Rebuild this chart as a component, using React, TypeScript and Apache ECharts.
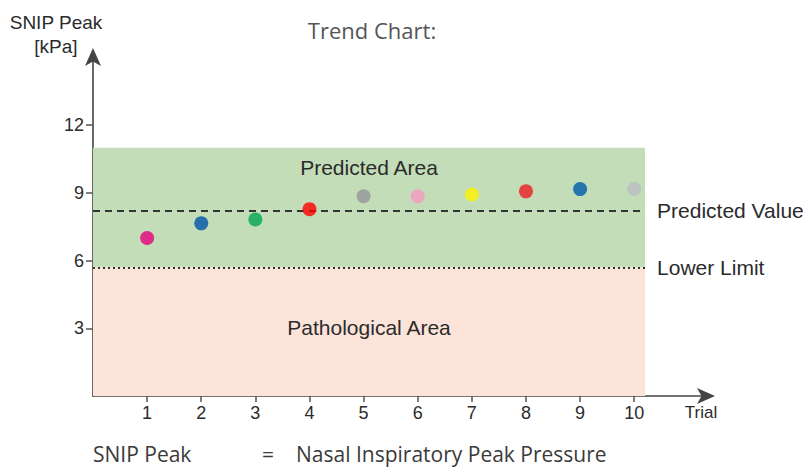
import React, { useEffect, useRef } from "react";
import * as echarts from "echarts";

const trials = [1, 2, 3, 4, 5, 6, 7, 8, 9, 10];
const snipPeak = [7.0, 7.65, 7.82, 8.28, 8.85, 8.85, 8.93, 9.07, 9.17, 9.17];
const pointColors = ["#e6007e", "#0054a6", "#00a651", "#ff0000", "#939598", "#f49ac1", "#fff200", "#ed1c24", "#005baa", "#bcbec0"];
const yTicks = [3, 6, 9, 12];
const predictedValue = 8.2;
const lowerLimit = 5.7;
const predictedUpper = 11;
const areaEnd = 10.2;

export default function App() {
  const ref = useRef<HTMLDivElement>(null);
  useEffect(() => {
    const chart = echarts.init(ref.current!, null, { renderer: "svg" });
    const axisFont = "'Liberation Sans', Arial, sans-serif";
    const labelColor = "#2b2b2b";
    chart.setOption({
      animation: false,
      backgroundColor: "#ffffff",
      grid: { left: 93, right: 98, top: 53, bottom: 72, containLabel: false },
      xAxis: {
        type: "value",
        min: 0,
        max: 11.4,
        axisLine: { show: true, symbol: ["none", "arrow"], symbolSize: [12, 18], symbolOffset: [0, 5], lineStyle: { color: "#444", width: 1.6 } },
        axisTick: { show: true, length: 6, lineStyle: { color: "#555", width: 1.5 }, customValues: trials },
        axisLabel: { customValues: trials, fontSize: 18, color: labelColor, fontFamily: axisFont, margin: 8 },
        splitLine: { show: false },
      },
      yAxis: {
        type: "value",
        min: 0,
        max: 15.2,
        axisLine: { show: true, symbol: ["none", "arrow"], symbolSize: [12, 18], symbolOffset: [0, 5], lineStyle: { color: "#444", width: 1.6 } },
        axisTick: { show: true, length: 7, lineStyle: { color: "#555", width: 1.5 }, customValues: yTicks },
        axisLabel: { customValues: yTicks, fontSize: 18, color: labelColor, fontFamily: axisFont, margin: 9 },
        splitLine: { show: false },
      },
      series: [
        {
          type: "scatter",
          symbolSize: 14,
          z: 5,
          data: trials.map((t, i) => ({ value: [t, snipPeak[i]], itemStyle: { color: pointColors[i] } })),
          markArea: {
            silent: true,
            data: [
              [
                { xAxis: 0, yAxis: lowerLimit, itemStyle: { color: "#c3ddb9" }, label: { show: true, position: "insideTop", distance: 9, formatter: "Predicted Area", fontSize: 21, color: labelColor, fontFamily: axisFont } },
                { xAxis: areaEnd, yAxis: predictedUpper },
              ],
              [
                { xAxis: 0, yAxis: 0, itemStyle: { color: "#fce4da" }, label: { show: true, position: "inside", offset: [0, -4], formatter: "Pathological Area", fontSize: 21, color: labelColor, fontFamily: axisFont } },
                { xAxis: areaEnd, yAxis: lowerLimit },
              ],
            ],
          },
          markLine: {
            silent: true,
            symbol: ["none", "none"],
            data: [
              [
                { coord: [0, predictedValue], lineStyle: { type: [7, 5], color: "#333", width: 2 }, label: { show: true, position: "end", distance: 12, formatter: "Predicted Value", fontSize: 21, color: labelColor, fontFamily: axisFont } },
                { coord: [areaEnd, predictedValue] },
              ],
              [
                { coord: [0, lowerLimit], lineStyle: { type: [2, 3], color: "#333", width: 2 }, label: { show: true, position: "end", distance: 12, formatter: "Lower Limit", fontSize: 21, color: labelColor, fontFamily: axisFont } },
                { coord: [areaEnd, lowerLimit] },
              ],
            ],
          },
        },
      ],
      graphic: [
        { type: "text", x: 56, y: 22, style: { text: "SNIP Peak", fontSize: 19, fill: labelColor, fontFamily: axisFont, align: "center", verticalAlign: "middle" } },
        { type: "text", x: 56, y: 46, style: { text: "[kPa]", fontSize: 19, fill: labelColor, fontFamily: axisFont, align: "center", verticalAlign: "middle" } },
        { type: "text", x: 372, y: 30, style: { text: "Trend Chart:", fontSize: 22, fill: "#555", fontFamily: "'Open Sans', sans-serif", align: "center", verticalAlign: "middle" } },
        { type: "text", x: 701, y: 412, style: { text: "Trial", fontSize: 17, fill: labelColor, fontFamily: axisFont, align: "center", verticalAlign: "middle" } },
        { type: "text", x: 93, y: 454, style: { text: "SNIP Peak", fontSize: 21, lineHeight: 24, fill: "#3a3a3a", fontFamily: "'Open Sans', sans-serif", align: "left", verticalAlign: "middle" } },
        { type: "text", x: 262, y: 454, style: { text: "=", fontSize: 21, lineHeight: 24, fill: "#3a3a3a", fontFamily: "'Open Sans', sans-serif", align: "left", verticalAlign: "middle" } },
        { type: "text", x: 296, y: 454, style: { text: "Nasal Inspiratory Peak Pressure", fontSize: 21, lineHeight: 24, fill: "#3a3a3a", fontFamily: "'Open Sans', sans-serif", align: "left", verticalAlign: "middle" } },
      ],
    });
    return () => chart.dispose();
  }, []);
  return <div ref={ref} style={{ width: 808, height: 468, position: "fixed", left: 0, top: 0 }} />;
}
